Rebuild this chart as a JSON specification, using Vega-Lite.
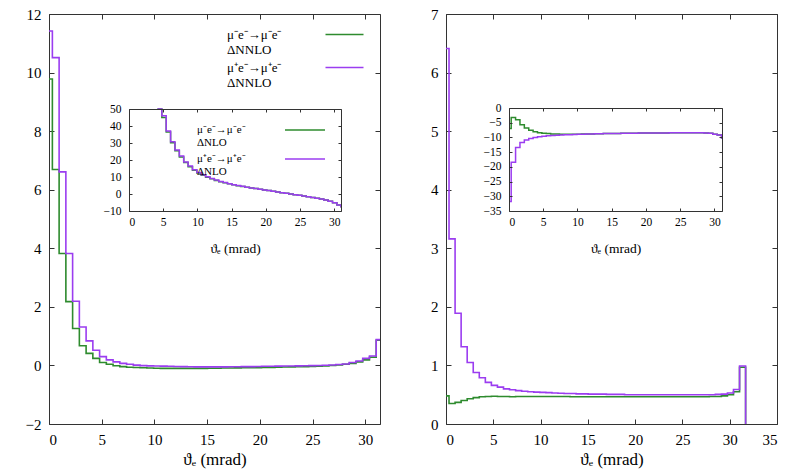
{
  "$schema": "https://vega.github.io/schema/vega-lite/v6.json",
  "padding": {"left": 5, "top": 7, "right": 5, "bottom": 5},
  "datasets": {
    "bins": [
      {"theta": 0, "a": 9.78, "b": 11.42, "c": null, "d": null, "e": 0.48, "f": 6.41, "g": -7.0, "h": -31.8},
      {"theta": 0.32, "a": 6.69, "b": 10.51, "c": null, "d": null, "e": 0.35, "f": 3.16, "g": -3.2, "h": -18.4},
      {"theta": 0.96, "a": 3.82, "b": 6.61, "c": null, "d": null, "e": 0.37, "f": 1.89, "g": -4.0, "h": -13.4},
      {"theta": 1.6, "a": 2.18, "b": 3.82, "c": null, "d": null, "e": 0.40, "f": 1.32, "g": -5.7, "h": -11.7},
      {"theta": 2.24, "a": 1.26, "b": 2.19, "c": null, "d": null, "e": 0.43, "f": 1.05, "g": -6.8, "h": -10.9},
      {"theta": 2.88, "a": 0.67, "b": 1.31, "c": null, "d": null, "e": 0.45, "f": 0.88, "g": -7.6, "h": -10.4},
      {"theta": 3.52, "a": 0.41, "b": 0.84, "c": null, "d": null, "e": 0.465, "f": 0.79, "g": -8.1, "h": -10.0},
      {"theta": 4.16, "a": 0.24, "b": 0.52, "c": 55, "d": 56, "e": 0.47, "f": 0.71, "g": -8.4, "h": -9.8},
      {"theta": 4.8, "a": 0.10, "b": 0.30, "c": 45, "d": 46, "e": 0.475, "f": 0.66, "g": -8.6, "h": -9.6},
      {"theta": 5.44, "a": 0.04, "b": 0.19, "c": 36.5, "d": 37.1, "e": 0.47, "f": 0.63, "g": -8.7, "h": -9.45},
      {"theta": 6.08, "a": -0.01, "b": 0.12, "c": 30.2, "d": 30.7, "e": 0.47, "f": 0.60, "g": -8.8, "h": -9.35},
      {"theta": 6.72, "a": -0.04, "b": 0.07, "c": 25.4, "d": 25.9, "e": 0.465, "f": 0.585, "g": -8.85, "h": -9.25},
      {"theta": 7.36, "a": -0.06, "b": 0.04, "c": 21.8, "d": 22.3, "e": 0.47, "f": 0.57, "g": -8.9, "h": -9.15},
      {"theta": 8.0, "a": -0.07, "b": 0.01, "c": 18.5, "d": 18.8, "e": 0.47, "f": 0.56, "g": -8.9, "h": -9.1},
      {"theta": 8.64, "a": -0.08, "b": -0.005, "c": 16.1, "d": 16.4, "e": 0.47, "f": 0.55, "g": -8.9, "h": -9.05},
      {"theta": 9.28, "a": -0.09, "b": -0.015, "c": 14.0, "d": 14.2, "e": 0.47, "f": 0.545, "g": -8.9, "h": -9.0},
      {"theta": 9.92, "a": -0.095, "b": -0.02, "c": 12.4, "d": 12.6, "e": 0.47, "f": 0.54, "g": -8.9, "h": -8.95},
      {"theta": 10.56, "a": -0.1, "b": -0.025, "c": 11.1, "d": 11.3, "e": 0.47, "f": 0.535, "g": -8.85, "h": -8.9},
      {"theta": 11.2, "a": -0.1, "b": -0.03, "c": 9.9, "d": 10.1, "e": 0.47, "f": 0.53, "g": -8.85, "h": -8.85},
      {"theta": 11.84, "a": -0.1, "b": -0.035, "c": 8.9, "d": 9.1, "e": 0.47, "f": 0.525, "g": -8.8, "h": -8.8},
      {"theta": 12.48, "a": -0.1, "b": -0.04, "c": 8.0, "d": 8.2, "e": 0.47, "f": 0.52, "g": -8.75, "h": -8.75},
      {"theta": 13.12, "a": -0.1, "b": -0.045, "c": 7.2, "d": 7.4, "e": 0.465, "f": 0.52, "g": -8.72, "h": -8.72},
      {"theta": 13.76, "a": -0.1, "b": -0.05, "c": 6.6, "d": 6.7, "e": 0.465, "f": 0.515, "g": -8.7, "h": -8.7},
      {"theta": 14.4, "a": -0.1, "b": -0.05, "c": 6.0, "d": 6.1, "e": 0.465, "f": 0.515, "g": -8.68, "h": -8.68},
      {"theta": 15.04, "a": -0.095, "b": -0.05, "c": 5.4, "d": 5.5, "e": 0.465, "f": 0.51, "g": -8.65, "h": -8.65},
      {"theta": 15.68, "a": -0.095, "b": -0.05, "c": 4.9, "d": 5.0, "e": 0.465, "f": 0.51, "g": -8.63, "h": -8.63},
      {"theta": 16.32, "a": -0.09, "b": -0.05, "c": 4.4, "d": 4.5, "e": 0.465, "f": 0.51, "g": -8.6, "h": -8.6},
      {"theta": 16.96, "a": -0.09, "b": -0.045, "c": 4.0, "d": 4.0, "e": 0.465, "f": 0.505, "g": -8.58, "h": -8.58},
      {"theta": 17.6, "a": -0.085, "b": -0.045, "c": 3.6, "d": 3.6, "e": 0.465, "f": 0.505, "g": -8.56, "h": -8.56},
      {"theta": 18.24, "a": -0.08, "b": -0.04, "c": 3.2, "d": 3.2, "e": 0.465, "f": 0.505, "g": -8.55, "h": -8.55},
      {"theta": 18.88, "a": -0.08, "b": -0.04, "c": 2.8, "d": 2.8, "e": 0.465, "f": 0.5, "g": -8.53, "h": -8.53},
      {"theta": 19.52, "a": -0.075, "b": -0.035, "c": 2.4, "d": 2.4, "e": 0.465, "f": 0.5, "g": -8.52, "h": -8.52},
      {"theta": 20.16, "a": -0.07, "b": -0.03, "c": 2.0, "d": 2.0, "e": 0.465, "f": 0.5, "g": -8.5, "h": -8.5},
      {"theta": 20.8, "a": -0.065, "b": -0.03, "c": 1.6, "d": 1.6, "e": 0.465, "f": 0.5, "g": -8.5, "h": -8.5},
      {"theta": 21.44, "a": -0.06, "b": -0.025, "c": 1.2, "d": 1.2, "e": 0.465, "f": 0.5, "g": -8.48, "h": -8.48},
      {"theta": 22.08, "a": -0.055, "b": -0.02, "c": 0.8, "d": 0.8, "e": 0.465, "f": 0.5, "g": -8.47, "h": -8.47},
      {"theta": 22.72, "a": -0.05, "b": -0.02, "c": 0.4, "d": 0.4, "e": 0.465, "f": 0.5, "g": -8.46, "h": -8.46},
      {"theta": 23.36, "a": -0.045, "b": -0.015, "c": 0.0, "d": 0.0, "e": 0.465, "f": 0.5, "g": -8.45, "h": -8.45},
      {"theta": 24.0, "a": -0.04, "b": -0.01, "c": -0.4, "d": -0.4, "e": 0.465, "f": 0.5, "g": -8.44, "h": -8.44},
      {"theta": 24.64, "a": -0.035, "b": -0.005, "c": -0.8, "d": -0.8, "e": 0.465, "f": 0.5, "g": -8.43, "h": -8.43},
      {"theta": 25.28, "a": -0.03, "b": 0.0, "c": -1.2, "d": -1.2, "e": 0.465, "f": 0.5, "g": -8.42, "h": -8.42},
      {"theta": 25.92, "a": -0.02, "b": 0.005, "c": -1.6, "d": -1.6, "e": 0.465, "f": 0.5, "g": -8.41, "h": -8.41},
      {"theta": 26.56, "a": 0.0, "b": 0.015, "c": -2.0, "d": -2.0, "e": 0.465, "f": 0.5, "g": -8.4, "h": -8.4},
      {"theta": 27.2, "a": 0.02, "b": 0.03, "c": -2.5, "d": -2.5, "e": 0.465, "f": 0.5, "g": -8.4, "h": -8.4},
      {"theta": 27.84, "a": 0.04, "b": 0.05, "c": -3.0, "d": -3.0, "e": 0.47, "f": 0.5, "g": -8.42, "h": -8.42},
      {"theta": 28.48, "a": 0.07, "b": 0.1, "c": -3.6, "d": -3.6, "e": 0.47, "f": 0.505, "g": -8.48, "h": -8.48},
      {"theta": 29.12, "a": 0.12, "b": 0.15, "c": -4.3, "d": -4.3, "e": 0.48, "f": 0.51, "g": -8.6, "h": -8.6},
      {"theta": 29.76, "a": 0.19, "b": 0.24, "c": -5.2, "d": -5.2, "e": 0.5, "f": 0.53, "g": -8.9, "h": -8.9},
      {"theta": 30.4, "a": 0.28, "b": 0.32, "c": -6.4, "d": -6.4, "e": 0.55, "f": 0.59, "g": -9.2, "h": -9.2},
      {"theta": 31.04, "a": 0.86, "b": 0.88, "c": -8.0, "d": -8.0, "e": 0.97, "f": 0.99, "g": -10.2, "h": -10.2},
      {"theta": 31.68, "a": 0.86, "b": 0.88, "c": -8.0, "d": -8.0, "e": -1, "f": -1, "g": -10.2, "h": -10.2}
    ]
  },
  "spacing": 19,
  "hconcat": [
    {
      "width": 331,
      "height": 410,
      "data": {"name": "bins"},
      "layer": [
        {
          "transform": [{"fold": ["a", "b"], "as": ["series", "value"]}],
          "mark": {"type": "line", "interpolate": "step-after", "clip": true, "strokeWidth": 1.6},
          "encoding": {
            "x": {"field": "theta", "type": "quantitative",
              "scale": {"domain": [0, 31.4], "nice": false, "zero": false},
              "axis": {"orient": "bottom", "values": [0, 5, 10, 15, 20, 25, 30], "title": "ϑₑ (mrad)", "tickSize": -5, "labelPadding": 13, "labelFontSize": 15, "titleFontSize": 17, "titlePadding": 4}},
            "y": {"field": "value", "type": "quantitative",
              "scale": {"domain": [-2, 12], "nice": false, "zero": false},
              "axis": {"orient": "left", "values": [-2, 0, 2, 4, 6, 8, 10, 12], "title": null, "tickSize": -5, "labelPadding": 13, "labelFontSize": 15, "minExtent": 44, "maxExtent": 44}},
            "color": {"field": "series", "type": "nominal",
              "scale": {"domain": ["a", "b"], "range": ["#2e8b2e", "#9b3df0"]},
              "legend": {"title": null, "orient": "none", "legendX": 285, "legendY": 10, "padding": 0,
                "symbolType": "M-2,0H2", "symbolSize": 361, "symbolStrokeWidth": 1.6,
                "labelAlign": "left", "labelOffset": -128, "labelFontSize": 13, "rowPadding": -3,
                "labelExpr": "datum.value == 'a' ? ['   μ⁻e⁻→μ⁻e⁻', 'ΔNNLO'] : ['   μ⁺e⁻→μ⁺e⁻', 'ΔNNLO']"}}
          }
        },
        {
          "mark": {"type": "line", "opacity": 0},
          "encoding": {
            "x": {"field": "theta", "type": "quantitative",
              "scale": {"domain": [0, 31.4], "nice": false, "zero": false},
              "axis": {"orient": "top", "values": [0, 5, 10, 15, 20, 25, 30], "labels": false, "title": null, "tickSize": -5, "minExtent": 0}},
            "y": {"field": "a", "type": "quantitative",
              "scale": {"domain": [-2, 12], "nice": false, "zero": false},
              "axis": {"orient": "right", "values": [-2, 0, 2, 4, 6, 8, 10, 12], "labels": false, "title": null, "tickSize": -5, "minExtent": 0, "maxExtent": 0}}
          }
        },
        {
          "transform": [{"fold": ["c", "d"], "as": ["series", "value"]}],
          "mark": {"type": "line", "interpolate": "step-after", "strokeWidth": 1.5},
          "encoding": {
            "x": {"field": "theta", "type": "quantitative",
              "scale": {"domain": [0, 31.0], "nice": false, "zero": false, "clamp": true, "range": [80, 292]},
              "axis": {"orient": "bottom", "offset": -213, "zindex": 1, "values": [0, 5, 10, 15, 20, 25, 30], "title": "ϑₑ (mrad)", "tickSize": -3, "labelPadding": 8, "labelFontSize": 11.5, "titleFontSize": 13.5, "titlePadding": 14}},
            "y": {"field": "value", "type": "quantitative",
              "scale": {"domain": [-10, 50], "nice": false, "zero": false, "clamp": true, "range": [197, 95]},
              "axis": {"orient": "left", "offset": -80, "zindex": 1, "values": [-10, 0, 10, 20, 30, 40, 50], "title": null, "tickSize": -3, "labelPadding": 11, "labelFontSize": 11.5, "minExtent": 0}},
            "color": {"field": "series", "type": "nominal",
              "scale": {"domain": ["c", "d"], "range": ["#2e8b2e", "#9b3df0"]},
              "legend": {"title": null, "orient": "none", "legendX": 245, "legendY": 105, "padding": 0,
                "symbolType": "M-2,0H2", "symbolSize": 400, "symbolStrokeWidth": 1.5,
                "labelAlign": "left", "labelOffset": -119, "labelFontSize": 11, "rowPadding": 0,
                "labelExpr": "datum.value == 'c' ? ['   μ⁻e⁻→μ⁻e⁻', 'ΔNLO'] : ['   μ⁺e⁻→μ⁺e⁻', 'ΔNLO']"}}
          }
        },
        {
          "mark": {"type": "line", "opacity": 0},
          "encoding": {
            "x": {"field": "theta", "type": "quantitative",
              "scale": {"domain": [0, 31.0], "nice": false, "zero": false, "range": [80, 292]},
              "axis": {"orient": "top", "offset": -95, "zindex": 1, "values": [0, 5, 10, 15, 20, 25, 30], "labels": false, "title": null, "tickSize": -3, "minExtent": 0}},
            "y": {"field": "c", "type": "quantitative",
              "scale": {"domain": [-10, 50], "nice": false, "zero": false, "range": [197, 95]},
              "axis": {"orient": "right", "offset": -39, "zindex": 1, "values": [-10, 0, 10, 20, 30, 40, 50], "labels": false, "title": null, "tickSize": -3, "minExtent": 0, "maxExtent": 0}}
          }
        }
      ],
      "resolve": {"scale": {"x": "independent", "y": "independent", "color": "independent"}}
    },
    {
      "width": 331,
      "height": 410,
      "data": {"name": "bins"},
      "layer": [
        {
          "transform": [{"fold": ["e", "f"], "as": ["series", "value"]}],
          "mark": {"type": "line", "interpolate": "step-after", "clip": true, "strokeWidth": 1.6},
          "encoding": {
            "x": {"field": "theta", "type": "quantitative",
              "scale": {"domain": [0, 35], "nice": false, "zero": false},
              "axis": {"orient": "bottom", "values": [0, 5, 10, 15, 20, 25, 30, 35], "title": "ϑₑ (mrad)", "tickSize": -5, "labelPadding": 13, "labelFontSize": 15, "titleFontSize": 17, "titlePadding": 4}},
            "y": {"field": "value", "type": "quantitative",
              "scale": {"domain": [0, 7], "nice": false, "zero": false},
              "axis": {"orient": "left", "values": [0, 1, 2, 3, 4, 5, 6, 7], "title": null, "tickSize": -5, "labelPadding": 13, "labelFontSize": 15, "minExtent": 44, "maxExtent": 44}},
            "color": {"field": "series", "type": "nominal",
              "scale": {"domain": ["e", "f"], "range": ["#2e8b2e", "#9b3df0"]},
              "legend": null}
          }
        },
        {
          "mark": {"type": "line", "opacity": 0},
          "encoding": {
            "x": {"field": "theta", "type": "quantitative",
              "scale": {"domain": [0, 35], "nice": false, "zero": false},
              "axis": {"orient": "top", "values": [0, 5, 10, 15, 20, 25, 30, 35], "labels": false, "title": null, "tickSize": -5, "minExtent": 0}},
            "y": {"field": "e", "type": "quantitative",
              "scale": {"domain": [0, 7], "nice": false, "zero": false},
              "axis": {"orient": "right", "values": [0, 1, 2, 3, 4, 5, 6, 7], "labels": false, "title": null, "tickSize": -5, "minExtent": 0, "maxExtent": 0}}
          }
        },
        {
          "transform": [{"fold": ["g", "h"], "as": ["series", "value"]}],
          "mark": {"type": "line", "interpolate": "step-after", "strokeWidth": 1.5},
          "encoding": {
            "x": {"field": "theta", "type": "quantitative",
              "scale": {"domain": [0, 31.1], "nice": false, "zero": false, "clamp": true, "range": [63, 276]},
              "axis": {"orient": "bottom", "offset": -213, "zindex": 1, "values": [0, 5, 10, 15, 20, 25, 30], "title": "ϑₑ (mrad)", "tickSize": -3, "labelPadding": 8, "labelFontSize": 11.5, "titleFontSize": 13.5, "titlePadding": 14}},
            "y": {"field": "value", "type": "quantitative",
              "scale": {"domain": [-35, 0], "nice": false, "zero": false, "clamp": true, "range": [197, 94]},
              "axis": {"orient": "left", "offset": -63, "zindex": 1, "values": [-35, -30, -25, -20, -15, -10, -5, 0], "title": null, "tickSize": -3, "labelPadding": 11, "labelFontSize": 11.5, "minExtent": 0}},
            "color": {"field": "series", "type": "nominal",
              "scale": {"domain": ["g", "h"], "range": ["#2e8b2e", "#9b3df0"]},
              "legend": null}
          }
        },
        {
          "mark": {"type": "line", "opacity": 0},
          "encoding": {
            "x": {"field": "theta", "type": "quantitative",
              "scale": {"domain": [0, 31.1], "nice": false, "zero": false, "range": [63, 276]},
              "axis": {"orient": "top", "offset": -94, "zindex": 1, "values": [0, 5, 10, 15, 20, 25, 30], "labels": false, "title": null, "tickSize": -3, "minExtent": 0}},
            "y": {"field": "g", "type": "quantitative",
              "scale": {"domain": [-35, 0], "nice": false, "zero": false, "range": [197, 94]},
              "axis": {"orient": "right", "offset": -55, "zindex": 1, "values": [-35, -30, -25, -20, -15, -10, -5, 0], "labels": false, "title": null, "tickSize": -3, "minExtent": 0, "maxExtent": 0}}
          }
        }
      ],
      "resolve": {"scale": {"x": "independent", "y": "independent", "color": "independent"}}
    }
  ],
  "config": {
    "font": "Liberation Serif",
    "view": {"stroke": null},
    "axis": {"grid": false, "domainColor": "#333", "tickColor": "#333", "labelColor": "#000", "titleColor": "#000", "labelFont": "Liberation Serif", "titleFont": "Liberation Serif", "titleFontWeight": "normal", "domainWidth": 1, "tickWidth": 1},
    "legend": {"labelFont": "Liberation Serif", "labelColor": "#000"}
  }
}
